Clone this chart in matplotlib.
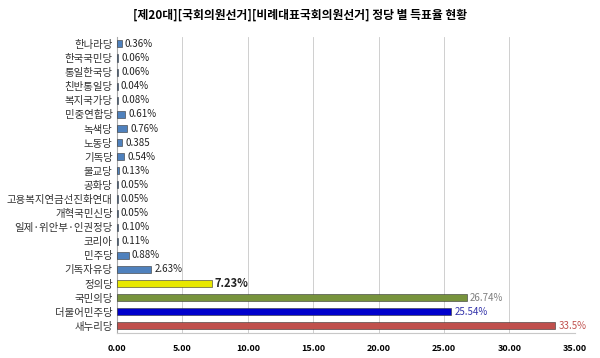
import matplotlib
matplotlib.use('Agg')
import matplotlib.pyplot as plt
import numpy as np

plt.rcParams['font.family'] = ['Noto Sans CJK KR', 'DejaVu Sans']

# ---------- Data ----------
parties = ['한나라당', '한국국민당', '통일한국당', '친반통일당', '복지국가당', '민중연합당',
           '녹색당', '노동당', '기독당', '불교당', '공화당', '고용복지연금선진화연대',
           '개혁국민신당', '일제·위안부·인권정당', '코리아', '민주당', '기독자유당',
           '정의당', '국민의당', '더불어민주당', '새누리당']
votes = [0.36, 0.06, 0.06, 0.04, 0.08, 0.61, 0.76, 0.385, 0.54, 0.13, 0.05, 0.05,
         0.05, 0.10, 0.11, 0.88, 2.63, 7.23, 26.74, 25.54, 33.5]
value_labels = ['0.36%', '0.06%', '0.06%', '0.04%', '0.08%', '0.61%', '0.76%', '0.385',
                '0.54%', '0.13%', '0.05%', '0.05%', '0.05%', '0.10%', '0.11%', '0.88%',
                '2.63%', '7.23%', '26.74%', '25.54%', '33.5%']
x_ticks = [0, 5, 10, 15, 20, 25, 30, 35]

bar_colors = ['#4F81BD'] * 17 + ['#E8E800', '#77933C', '#0000CC', '#C0504D']
label_colors = ['#222222'] * 18 + ['#7F7F7F', '#3333AA', '#C0504D']

fig = plt.figure(figsize=(6, 3.58), dpi=100)
ax = fig.add_axes([0.195, 0.07, 0.763, 0.827])

y = np.arange(len(parties))
ax.barh(y, votes, height=0.5, color=bar_colors, edgecolor='#333333', linewidth=0.4, zorder=3)

for i, (v, lab) in enumerate(zip(votes, value_labels)):
    bold = (lab == '7.23%')
    ax.text(v + 0.25, y[i], lab, ha='left', va='center',
            fontsize=8 if bold else 7, color=label_colors[i],
            fontweight='bold' if bold else 'normal', zorder=4)

ax.set_yticks(y)
ax.set_yticklabels(parties, fontsize=7.5, color='#333333')
ax.set_ylim(len(parties) - 0.5, -0.5)
ax.set_xlim(0, 35)
ax.set_xticks(x_ticks)
ax.set_xticklabels([f'{t:.2f}' for t in x_ticks], fontsize=6.5, fontweight='bold')
ax.tick_params(axis='both', length=0, pad=3)
ax.tick_params(axis='x', pad=8)
ax.grid(axis='x', color='#C8C8C8', linewidth=0.6, zorder=0)
for s in ['top', 'right']:
    ax.spines[s].set_visible(False)
ax.spines['left'].set_color('#AAAAAA')
ax.spines['bottom'].set_color('#C8C8C8')

fig.suptitle('[제20대][국회의원선거][비례대표국회의원선거] 정당 별 득표율 현황',
             x=0.5, y=0.975, fontsize=8.5, fontweight='bold')

fig.savefig('out.png', dpi=100)
